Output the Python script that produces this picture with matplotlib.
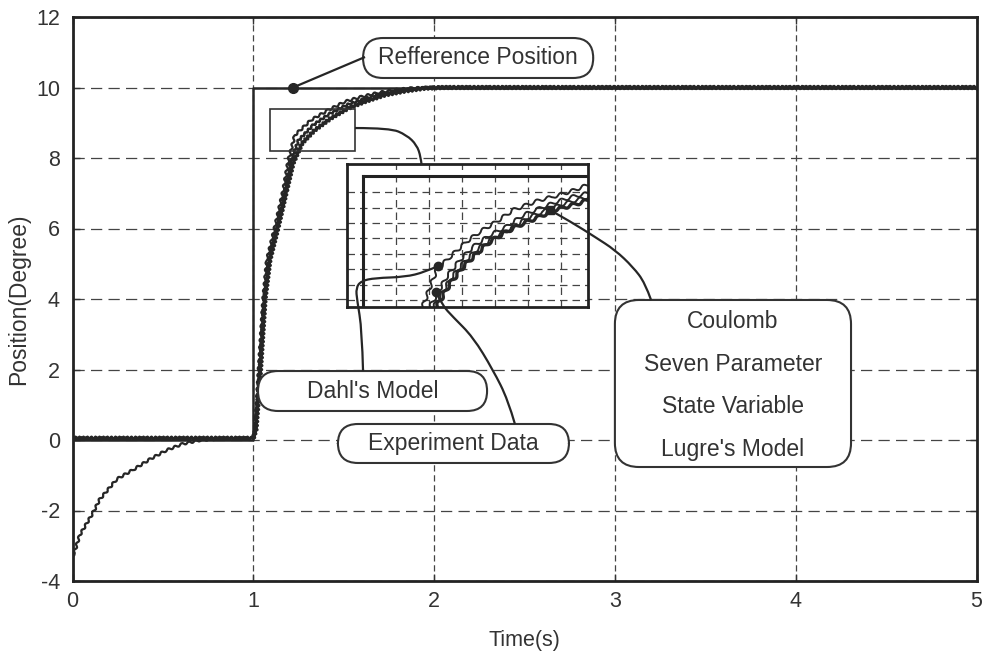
import matplotlib
matplotlib.use("Agg")
import matplotlib.pyplot as plt
from matplotlib.patches import FancyBboxPatch, Rectangle, PathPatch
from matplotlib.path import Path
from matplotlib.lines import Line2D

plt.rcParams['font.family'] = ['Liberation Sans', 'DejaVu Sans']
plt.rcParams['axes.unicode_minus'] = False

# ---------------- data ----------------
# reference position (step)
t_ref = [0.0, 1.0, 1.0, 5.0]
pos_ref = [0.0, 0.0, 10.0, 10.0]

# experiment data (starts at -3.3)
t_exp = [0.0, 0.01, 0.04, 0.115, 0.15, 0.245, 0.34, 0.43, 0.52, 0.61, 0.71,
         0.85, 1.0, 1.01, 1.03, 1.055, 1.075, 1.12, 1.166, 1.194, 1.23, 1.32,
         1.415, 1.507, 1.6, 1.69, 1.78, 1.876, 2.0, 5.0]
pos_exp = [-3.3, -3.2, -2.7, -2.05, -1.69, -1.11, -0.83, -0.54, -0.29, -0.11, 0.0,
           0.05, 0.05, 0.3, 2.0, 4.0, 5.1, 6.05, 7.09, 7.94, 8.65, 9.08,
           9.36, 9.6, 9.74, 9.85, 9.93, 9.98, 10.0, 10.0]

# Dahl's model
t_dahl = [0.0, 1.0, 1.012, 1.035, 1.06, 1.083, 1.13, 1.175, 1.207, 1.25, 1.33,
          1.42, 1.515, 1.61, 1.71, 1.81, 1.91, 2.02, 5.0]
pos_dahl = [0.05, 0.05, 0.3, 2.0, 4.0, 5.1, 6.05, 7.09, 7.9, 8.5, 8.93,
            9.25, 9.5, 9.67, 9.82, 9.92, 9.98, 10.0, 10.0]

# Coulomb / Seven Parameter / State Variable / Lugre's model (overlapping)
t_model = [0.0, 1.0, 1.015, 1.04, 1.065, 1.092, 1.138, 1.185, 1.22, 1.27, 1.34,
           1.43, 1.525, 1.618, 1.73, 1.84, 1.95, 2.05, 5.0]
pos_model = [0.05, 0.05, 0.3, 2.0, 4.0, 5.11, 6.05, 7.09, 7.85, 8.42, 8.79,
             9.13, 9.41, 9.6, 9.79, 9.9, 9.98, 10.0, 10.0]

# zoomed inset curves (inset grid units)
ins_x1 = [1.75, 1.81, 2.23, 2.64, 3.14, 3.55, 4.05, 4.55, 4.96, 5.36, 5.77, 6.27, 6.85]
ins_y1 = [-0.8, -0.43, 1.95, 2.81, 3.79, 4.44, 5.09, 5.84, 6.17, 6.49, 6.71, 7.03, 7.5]
ins_x2 = [1.97, 2.03, 2.54, 2.94, 3.34, 3.85, 4.35, 4.86, 5.36, 5.87, 6.37, 6.85]
ins_y2 = [-0.8, -0.43, 1.52, 2.60, 3.46, 4.22, 4.76, 5.52, 5.95, 6.38, 6.71, 6.95]
ins_x3 = [2.08, 2.15, 2.66, 3.06, 3.46, 3.97, 4.47, 4.98, 5.48, 5.99, 6.49, 6.85]
ins_y3 = [-0.8, -0.43, 1.40, 2.45, 3.30, 4.05, 4.60, 5.32, 5.76, 6.18, 6.50, 6.70]
ins_x4 = [2.18, 2.23, 2.64, 3.04, 3.45, 3.85, 4.35, 4.86, 5.36, 5.77, 6.37, 6.85]
ins_y4 = [-0.8, -0.43, 1.08, 2.16, 3.03, 3.79, 4.44, 4.98, 5.41, 5.84, 6.17, 6.5]

x_ticks = [0, 1, 2, 3, 4, 5]
y_ticks = [-4, -2, 0, 2, 4, 6, 8, 10, 12]
x_label = "Time(s)"
y_label = "Position(Degree)"

# ---------------- figure ----------------
W, H = 985, 657
fig = plt.figure(figsize=(W / 100, H / 100), dpi=100)
fig.patch.set_facecolor('white')
ax = fig.add_axes([72.5 / W, 1 - 581 / H, 904 / W, 564 / H])
ax.set_xlim(0, 5)
ax.set_ylim(-4, 12)
ax.set_xticks(x_ticks)
ax.set_yticks(y_ticks)
ax.tick_params(direction='in', length=5, width=1, colors='#333', labelsize=15.5,
               top=True, right=True, labeltop=False, labelright=False)
ax.tick_params(axis='y', pad=9)
ax.tick_params(axis='x', pad=7)
for sp in ax.spines.values():
    sp.set_linewidth(2.0)
    sp.set_color('#222')
ax.xaxis.grid(True, linestyle=(0, (5, 3)), color='#444', linewidth=0.9)
ax.yaxis.grid(True, linestyle=(0, (9, 5)), color='#444', linewidth=0.9)
ax.set_axisbelow(True)
ax.set_xlabel(x_label, fontsize=15.5, color='#333', labelpad=13)
ax.set_ylabel(y_label, fontsize=16.5, color='#333', labelpad=4)

CURVE = '#262626'
ax.plot(t_ref, pos_ref, color=CURVE, lw=1.8, zorder=3)
l1, = ax.plot(t_exp, pos_exp, color=CURVE, lw=1.6, zorder=3)
l2, = ax.plot(t_dahl, pos_dahl, color=CURVE, lw=1.8, zorder=3)
l3, = ax.plot(t_model, pos_model, color=CURVE, lw=2.2, zorder=3)
l1.set_sketch_params(1.1, 7, 1)
l2.set_sketch_params(1.0, 5, 1)
l3.set_sketch_params(1.2, 4, 1)

# small selection rectangle
ax.add_patch(Rectangle((1.094, 8.20), 0.47, 1.19, fill=False, ec='#333', lw=1.2, zorder=4))

# ---------------- annotation boxes ----------------
PX_X = 904 / 5.0     # px per x unit
PX_Y = 564 / 16.0    # px per y unit
ASPECT = PX_X / PX_Y


def rbox(x0, x1, y0, y1, r_px):
    p = FancyBboxPatch((x0, y0), x1 - x0, y1 - y0,
                       boxstyle=f"round,pad=0,rounding_size={r_px / PX_X}",
                       mutation_aspect=ASPECT, transform=ax.transData,
                       fc='white', ec='#333', lw=1.5, zorder=5)
    ax.add_patch(p)


TXT = dict(fontsize=16.5, color='#333', ha='center', va='center', zorder=6)
rbox(1.607, 2.880, 10.270, 11.404, 20)
ax.text(2.243, 10.84, "Refference Position", **TXT)
rbox(1.026, 2.293, 0.823, 1.957, 20)
ax.text(1.66, 1.39, "Dahl's Model", **TXT)
rbox(1.468, 2.746, -0.652, 0.454, 20)
ax.text(2.107, -0.10, "Experiment Data", **TXT)
rbox(3.0, 4.306, -0.766, 3.972, 24)
for s, yv in zip(["Coulomb", "Seven Parameter", "State Variable", "Lugre's Model"],
                 [3.356, 2.156, 0.945, -0.264]):
    ax.text(3.653, yv, s, **TXT)

# ---------------- inset (zoomed view) ----------------
axi = fig.add_axes([347 / W, 1 - 307 / H, 241 / W, 143 / H])
axi.set_xlim(-0.485, 6.82)
axi.set_ylim(-0.455, 8.83)
axi.set_xticks([1, 2, 3, 4, 5, 6])
axi.set_yticks([0, 1, 2, 3, 4, 5, 6, 7])
axi.tick_params(length=0, labelbottom=False, labelleft=False)
axi.grid(True, linestyle=(0, (6, 4)), color='#444', linewidth=0.9)
axi.set_axisbelow(True)
for sp in axi.spines.values():
    sp.set_linewidth(2.0)
    sp.set_color('#222')
inner_top = 8.05
axi.axvline(0, ymin=0, ymax=(inner_top + 0.455) / (8.83 + 0.455), color='#222', lw=2.2)
axi.axhline(inner_top, xmin=0.485 / (6.82 + 0.485), xmax=1, color='#222', lw=2.2)
i1, = axi.plot(ins_x1, ins_y1, color=CURVE, lw=1.4)
i2, = axi.plot(ins_x2, ins_y2, color=CURVE, lw=1.4)
i3, = axi.plot(ins_x3, ins_y3, color=CURVE, lw=1.4)
i4, = axi.plot(ins_x4, ins_y4, color=CURVE, lw=2.4)
for ln in (i1, i2, i3, i4):
    ln.set_sketch_params(1.6, 12, 1)

# ---------------- pointer lines (above everything) ----------------


def smooth(xs, ys):
    pts = list(zip(xs, ys))
    verts, codes = [pts[0]], [Path.MOVETO]
    if len(pts) == 2:
        verts.append(pts[1]); codes.append(Path.LINETO)
    else:
        for i in range(1, len(pts) - 1):
            if i < len(pts) - 2:
                end = ((pts[i][0] + pts[i + 1][0]) / 2, (pts[i][1] + pts[i + 1][1]) / 2)
            else:
                end = pts[i + 1]
            verts += [pts[i], end]
            codes += [Path.CURVE3, Path.CURVE3]
    return Path(verts, codes)


def pointer(xs, ys):
    fig.add_artist(PathPatch(smooth(xs, ys), transform=ax.transData, fill=False,
                             ec='#262626', lw=1.6, zorder=10))


pointer([1.22, 1.618], [10.0, 10.865])
pointer([1.5625, 1.756, 1.848, 1.904, 1.926, 1.931], [8.85, 8.85, 8.652, 8.369, 8.037, 7.80])
pointer([1.607, 1.601, 1.574, 1.568, 1.596, 1.673, 1.839, 1.95, 2.022],
        [1.957, 3.121, 3.972, 4.312, 4.511, 4.596, 4.624, 4.766, 4.936])
pointer([2.447, 2.409, 2.326, 2.215, 2.105, 2.044, 2.010],
        [0.454, 1.135, 1.986, 2.922, 3.489, 3.830, 4.199])
pointer([2.641, 2.768, 2.890, 3.001, 3.100, 3.167, 3.200],
        [6.525, 6.156, 5.759, 5.390, 4.908, 4.454, 3.972])

fig.add_artist(Line2D([1.22], [10.0], transform=ax.transData, marker='o', ms=7,
                      color='#262626', zorder=11))
fig.add_artist(Line2D([2.022, 2.010], [4.936, 4.199], transform=ax.transData, ls='none',
                      marker='o', ms=6, color='#262626', zorder=11))
fig.add_artist(Line2D([2.641], [6.525], transform=ax.transData, marker='s', ms=6,
                      color='#262626', zorder=11))

fig.savefig("out.png", dpi=100)
